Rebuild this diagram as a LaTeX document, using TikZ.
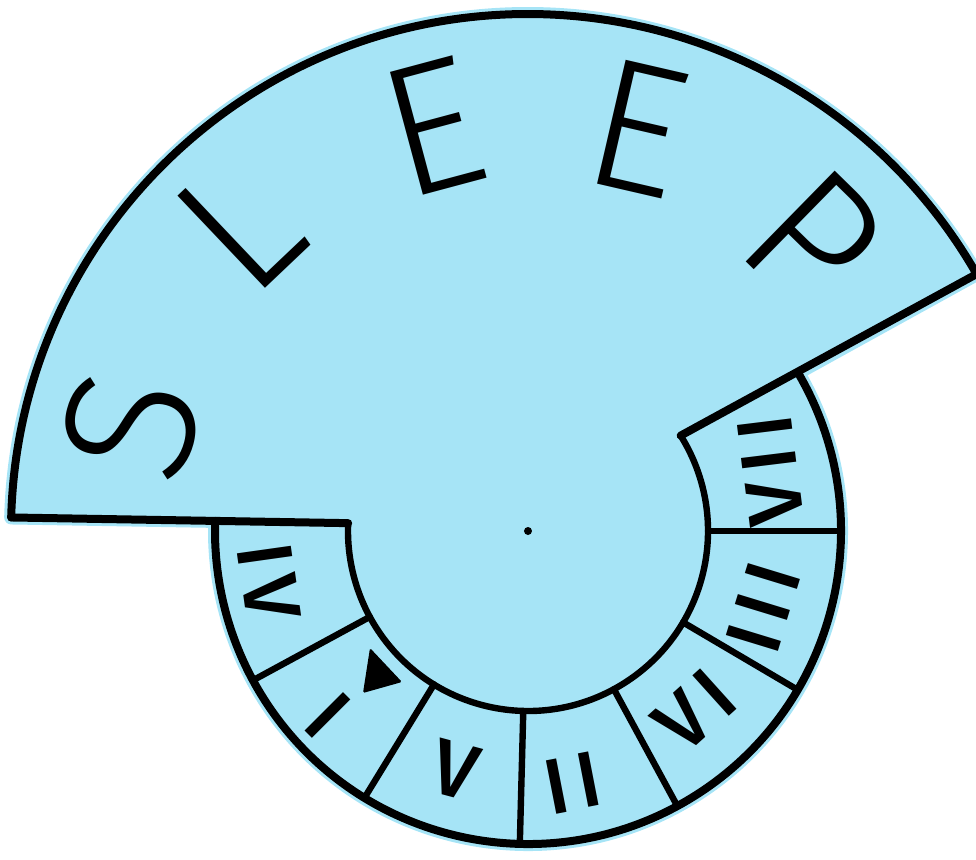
\documentclass[tikz,border=0pt]{standalone}
\usepackage{fontspec}
\IfFontExistsTF{Fira Sans Light}
  {\newfontfamily\sleepfont{Fira Sans Light}}
  {\newfontfamily\sleepfont{Fira Sans}}
\IfFontExistsTF{Fira Sans Medium}
  {\newfontfamily\hourfont{Fira Sans Medium}[LetterSpace=12]}
  {\newfontfamily\hourfont{Fira Sans}[LetterSpace=12]}
\definecolor{paper}{RGB}{166,228,246}

\begin{document}
\begin{tikzpicture}[
    x=0.25mm, y=0.25mm,
    outline/.style={line width=2mm, line join=round, line cap=round},
    ringline/.style={line width=1.6mm, line cap=round},
    letter/.style={font=\sleepfont\fontsize{132}{132}\selectfont, inner sep=0pt},
    hour/.style={font=\hourfont\fontsize{56}{56}\selectfont, inner sep=0pt},
]
\useasboundingbox (-528,-328) rectangle (448,531);

% corners of the cut-out
\coordinate (fanL) at (178.5:517);
\coordinate (fanR) at (29.8:517);
\coordinate (ringR) at (30.4:313);
\coordinate (ringL) at (178.15:313);
\coordinate (innerR) at (32:180);
\coordinate (innerL) at (177.5:180);
\coordinate (hub) at (0,0);

% paper
\path[fill=paper, draw=paper, line width=3.5mm, line join=round]
    (fanL) arc[start angle=178.5, end angle=29.8, radius=517]
    -- (ringR) arc[start angle=30.4, end angle=-181.85, radius=313] -- cycle;

% outline of the fan and the dial
\draw[outline] (fanL) arc[start angle=178.5, end angle=29.8, radius=517] -- (innerR);
\draw[outline] (fanL) -- (innerL);
\draw[outline] (ringR) arc[start angle=30.4, end angle=-181.85, radius=313];
\draw[ringline] (innerR) arc[start angle=32, end angle=-182.5, radius=180];

% dial segments
\draw[ringline] (208.5:180) -- (208.5:313);
\draw[ringline] (238.5:180) -- (238.5:313);
\draw[ringline] (268.5:180) -- (268.5:313);
\draw[ringline] (298.5:180) -- (298.5:313);
\draw[ringline] (329.5:180) -- (329.5:313);
\draw[ringline] (0:180) -- (0:313);

\fill (hub) circle[radius=4];
\fill[rounded corners=0.4mm] (-158,-117) -- (-165,-162) -- (-126,-151) -- cycle;

% word
\node[letter, rotate=75] (s) at (165.2:411) {S};
\node[letter, rotate=43.5] (l) at (133.5:420) {L};
\node[letter, rotate=15] (e1) at (103.2:415) {E};
\node[letter, rotate=-13] (e2) at (74.7:418) {E};
\node[letter, rotate=-44.4] (p) at (45.6:409) {P};

% numerals
\node[hour, rotate=-82] (iv) at (191:264) {IV};
\node[hour, rotate=-45] (i) at (222.6:272) {I};
\node[hour, rotate=-15] (v) at (253:250) {V};
\node[hour, rotate=11] (ii) at (280:256) {II};
\node[hour, rotate=42] (vi) at (313:245) {VI};
\node[hour, rotate=73] (iii) at (342:247) {III};
\node[hour, rotate=97] (vii) at (14:250) {VII};

\end{tikzpicture}
\end{document}
